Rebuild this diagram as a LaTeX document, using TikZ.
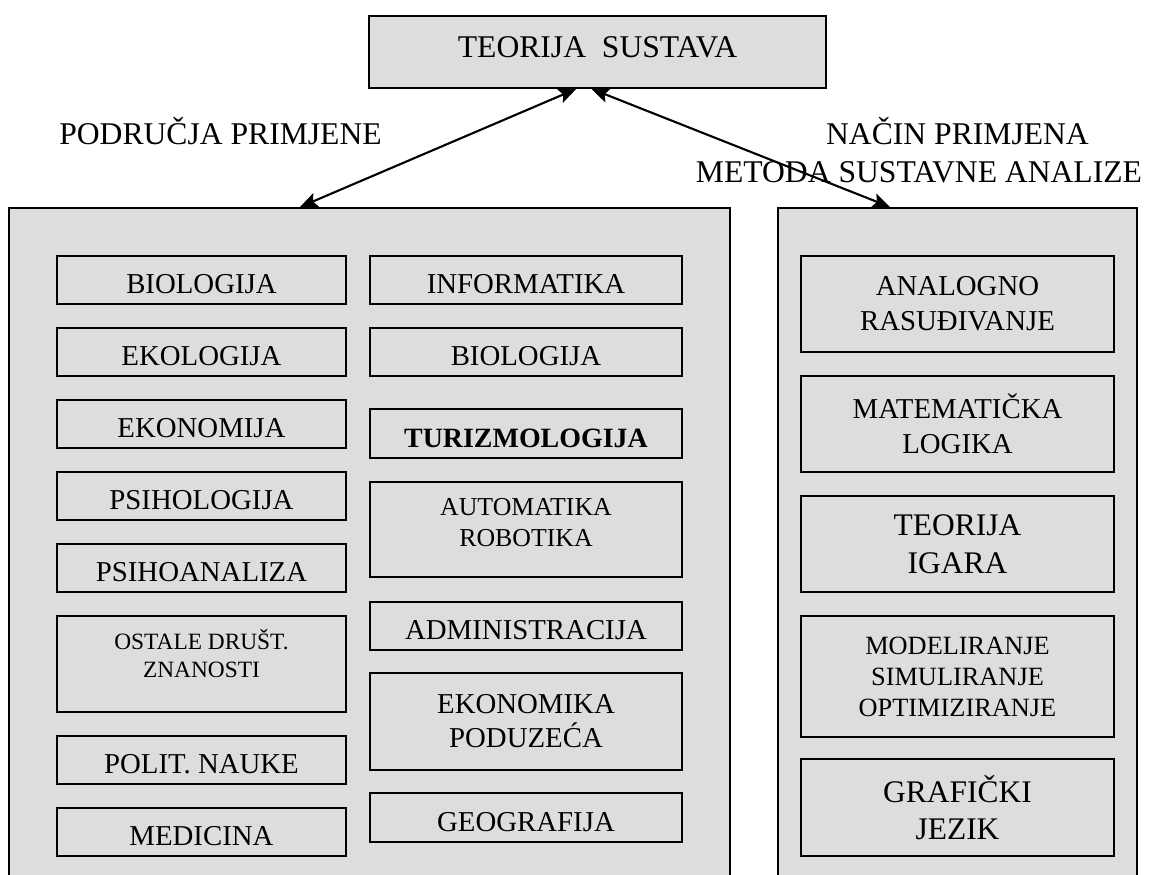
\documentclass[tikz,border=0pt]{standalone}
\usepackage{fontspec}
\setmainfont{Liberation Serif}
\usepackage{xcolor}
\usepackage{tikz}
\usetikzlibrary{shapes.geometric, arrows.meta, positioning, calc}
\definecolor{boxgray}{RGB}{221,221,221}
\tikzstyle{arrow} = [line width=1.2pt,{Stealth[length=10pt,width=8.5pt,inset=2pt]}-{Stealth[length=10pt,width=8.5pt,inset=2pt]}]

\begin{document}
\begin{tikzpicture}[x=0.02cm,y=-0.02cm]
	% Define styles for the boxes and the texts
	\tikzstyle{frame} = [rectangle, draw, line width=1.1pt, fill=boxgray, anchor=north, inner sep=0pt, minimum height=14cm]
	\tikzstyle{cell} = [rectangle, draw, line width=1.1pt, fill=boxgray, inner sep=0pt, align=center, font=\fontsize{16.4}{19.2}\selectfont]
	\tikzstyle{single} = [cell, minimum height=0.96cm, text height=15.4pt, text depth=0pt]
	\tikzstyle{lcol} = [single, minimum width=5.78cm]
	\tikzstyle{mcol} = [single, minimum width=6.24cm]
	\tikzstyle{rcol} = [cell, minimum width=6.26cm, minimum height=1.92cm, font=\fontsize{16.4}{19.8}\selectfont]
	\tikzstyle{heading} = [anchor=base, font=\fontsize{18}{21}\selectfont]

	% Page
	\path[use as bounding box, fill=white] (0,0) rectangle (1150,875);
	\clip (0,0) rectangle (1150,875);

	% Big boxes
	\node[frame, minimum width=14.42cm] (podrucja) at (369.5,207) {};
	\node[frame, minimum width=7.18cm] (metode) at (957.5,207) {};

	% Top box
	\node[cell, minimum width=9.14cm, minimum height=1.44cm, font=\fontsize{18}{21}\selectfont, text height=11.8pt, text depth=5.7pt] (teorija) at (597.5,52) {TEORIJA\ \ SUSTAVA};

	% Headings
	\node[heading] (podrucjanaslov) at (220.5,145) {PODRUČJA PRIMJENE};
	\node[heading] (nacin) at (957.5,145) {NAČIN PRIMJENA};
	\node[heading] (metoda) at (919,182) {METODA SUSTAVNE ANALIZE};

	% Left column
	\node[lcol] (biologija) at (201.5,280) {BIOLOGIJA};
	\node[lcol] (ekologija) at (201.5,352) {EKOLOGIJA};
	\node[lcol] (ekonomija) at (201.5,424) {EKONOMIJA};
	\node[lcol] (psihologija) at (201.5,496) {PSIHOLOGIJA};
	\node[lcol] (psihoanaliza) at (201.5,568) {PSIHOANALIZA};
	\node[cell, minimum width=5.78cm, minimum height=1.92cm, font=\fontsize{13.3}{15.9}\selectfont] (ostale) at (201.5,664) {OSTALE DRUŠT.\\ZNANOSTI\\[-3.4pt]\mbox{}};
	\node[lcol] (politika) at (201.5,760) {POLIT. NAUKE};
	\node[lcol] (medicina) at (201.5,832) {MEDICINA};

	% Middle column
	\node[mcol] (informatika) at (526,280) {INFORMATIKA};
	\node[mcol] (biologijadva) at (526,352) {BIOLOGIJA};
	\node[mcol, minimum height=0.98cm, font=\fontsize{15.9}{19}\selectfont\bfseries] (turizmologija) at (526,433.5) {TURIZMOLOGIJA};
	\node[cell, minimum width=6.24cm, minimum height=1.9cm, font=\fontsize{14.7}{18.1}\selectfont] (automatika) at (526,529.5) {AUTOMATIKA\\ROBOTIKA\\[-10pt]\mbox{}};
	\node[mcol] (administracija) at (526,626) {ADMINISTRACIJA};
	\node[cell, minimum width=6.24cm, minimum height=1.94cm, font=\fontsize{16.4}{19.3}\selectfont] (ekonomika) at (526,721.5) {EKONOMIKA\\PODUZEĆA};
	\node[mcol, minimum height=0.98cm] (geografija) at (526,817.5) {GEOGRAFIJA};

	% Right column
	\node[rcol] (analogno) at (957.5,304) {ANALOGNO\\RASUĐIVANJE};
	\node[rcol] (matematika) at (957.5,424) {MATEMATIČKA\\LOGIKA};
	\node[rcol, font=\fontsize{17.9}{21.5}\selectfont] (igre) at (957.5,544) {TEORIJA\\IGARA};
	\node[rcol, minimum height=2.42cm, font=\fontsize{15}{17.6}\selectfont] (modeliranje) at (957.5,676.5) {MODELIRANJE\\SIMULIRANJE\\OPTIMIZIRANJE};
	\node[rcol, minimum height=1.94cm, font=\fontsize{17.9}{21}\selectfont] (graficki) at (957.5,807.5) {GRAFIČKI\\JEZIK};

	% Arrows
	\draw[arrow] (teorija.240) -- ($(podrucja.north)+(-69.5,0)$);
	\draw[arrow] (teorija.261) -- ($(metode.north)+(-67.5,0)$);
\end{tikzpicture}
\end{document}
